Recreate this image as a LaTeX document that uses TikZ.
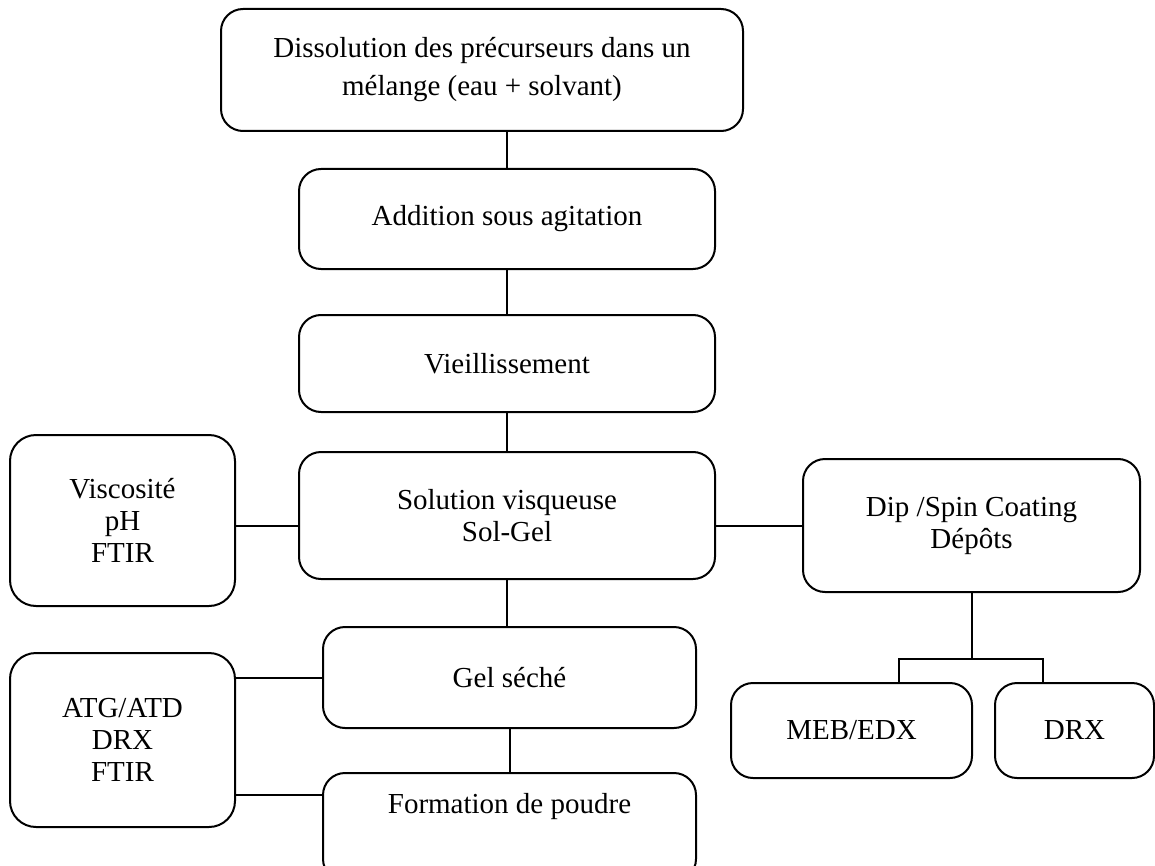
\documentclass[tikz,border=0pt]{standalone}
\usepackage{fontspec}
\setmainfont{Liberation Serif}
\usetikzlibrary{calc}
\tikzstyle{stepbox} = [draw, line width=1pt, rounded corners=11pt, align=center, font=\fontsize{14.5}{16}\selectfont]
\tikzstyle{testbox} = [stepbox, rounded corners=13pt]
\tikzstyle{link} = [line width=1pt]

\begin{document}
\begin{tikzpicture}[x=0.5pt, y=-0.5pt]
    \useasboundingbox (0,0) rectangle (1155,866);
    \clip (0,0) rectangle (1155,866);
    % main column
    \node[stepbox, font=\fontsize{14.5}{19}\selectfont, minimum width=261pt, minimum height=61pt] (dissol) at (482,70)
        {Dissolution des précurseurs dans un\\ mélange (eau + solvant)};
    \node[stepbox, minimum width=208pt, minimum height=50pt] (addit) at (507,219) {Addition sous agitation};
    \node[stepbox, minimum width=208pt, minimum height=48.5pt] (vieil) at (507,363.5) {Vieillissement};
    \node[stepbox, minimum width=208pt, minimum height=63.5pt] (solvis) at (507,515.5) {Solution visqueuse\\ Sol-Gel};
    \node[stepbox, minimum width=186.5pt, minimum height=50.5pt] (gel) at (509.5,677.5) {Gel séché};
    \node[stepbox, anchor=north, minimum width=186.5pt, inner ysep=4pt, text height=16pt, text depth=30pt] (poudre) at (509.5,772) {Formation de poudre};
    % characterisation
    \node[testbox, minimum width=112.5pt, minimum height=85.5pt] (visco) at (122.5,520.5) {Viscosité\\ pH\\ FTIR};
    \node[testbox, minimum width=112.5pt, minimum height=87pt] (atg) at (122.5,740) {ATG/ATD\\ DRX\\ FTIR};
    \node[stepbox, minimum width=168.5pt, minimum height=66.5pt] (dip) at (971.5,525.5) {Dip /Spin Coating\\ Dépôts};
    \node[stepbox, minimum width=120.5pt, minimum height=47.5pt] (meb) at (851.5,730.5) {MEB/EDX};
    \node[stepbox, minimum width=79.5pt, minimum height=47.5pt] (drx) at (1074.5,730.5) {DRX};

    \coordinate (pd) at (0,795);
    \coordinate (tl) at (899,659);
    \coordinate (tr) at (1043,659);

    \draw[link] (addit.north |- dissol.south) -- (addit.north);
    \draw[link] (addit.south) -- (vieil.north);
    \draw[link] (vieil.south) -- (solvis.north);
    \draw[link] (solvis.south) -- (solvis.south |- gel.north);
    \draw[link] (gel.south) -- (poudre.north);
    \draw[link] (visco.east |- dip.west) -- (solvis.west |- dip.west);
    \draw[link] (solvis.east |- dip.west) -- (dip.west);
    \draw[link] (atg.east |- gel.west) -- (gel.west);
    \draw[link] (atg.east |- pd) -- (poudre.west |- pd);
    \draw[link] (dip.south) -- (dip.south |- tl);
    \draw[link] (tl |- meb.north) -- (tl) -- (tr) -- (tr |- drx.north);
\end{tikzpicture}
\end{document}
